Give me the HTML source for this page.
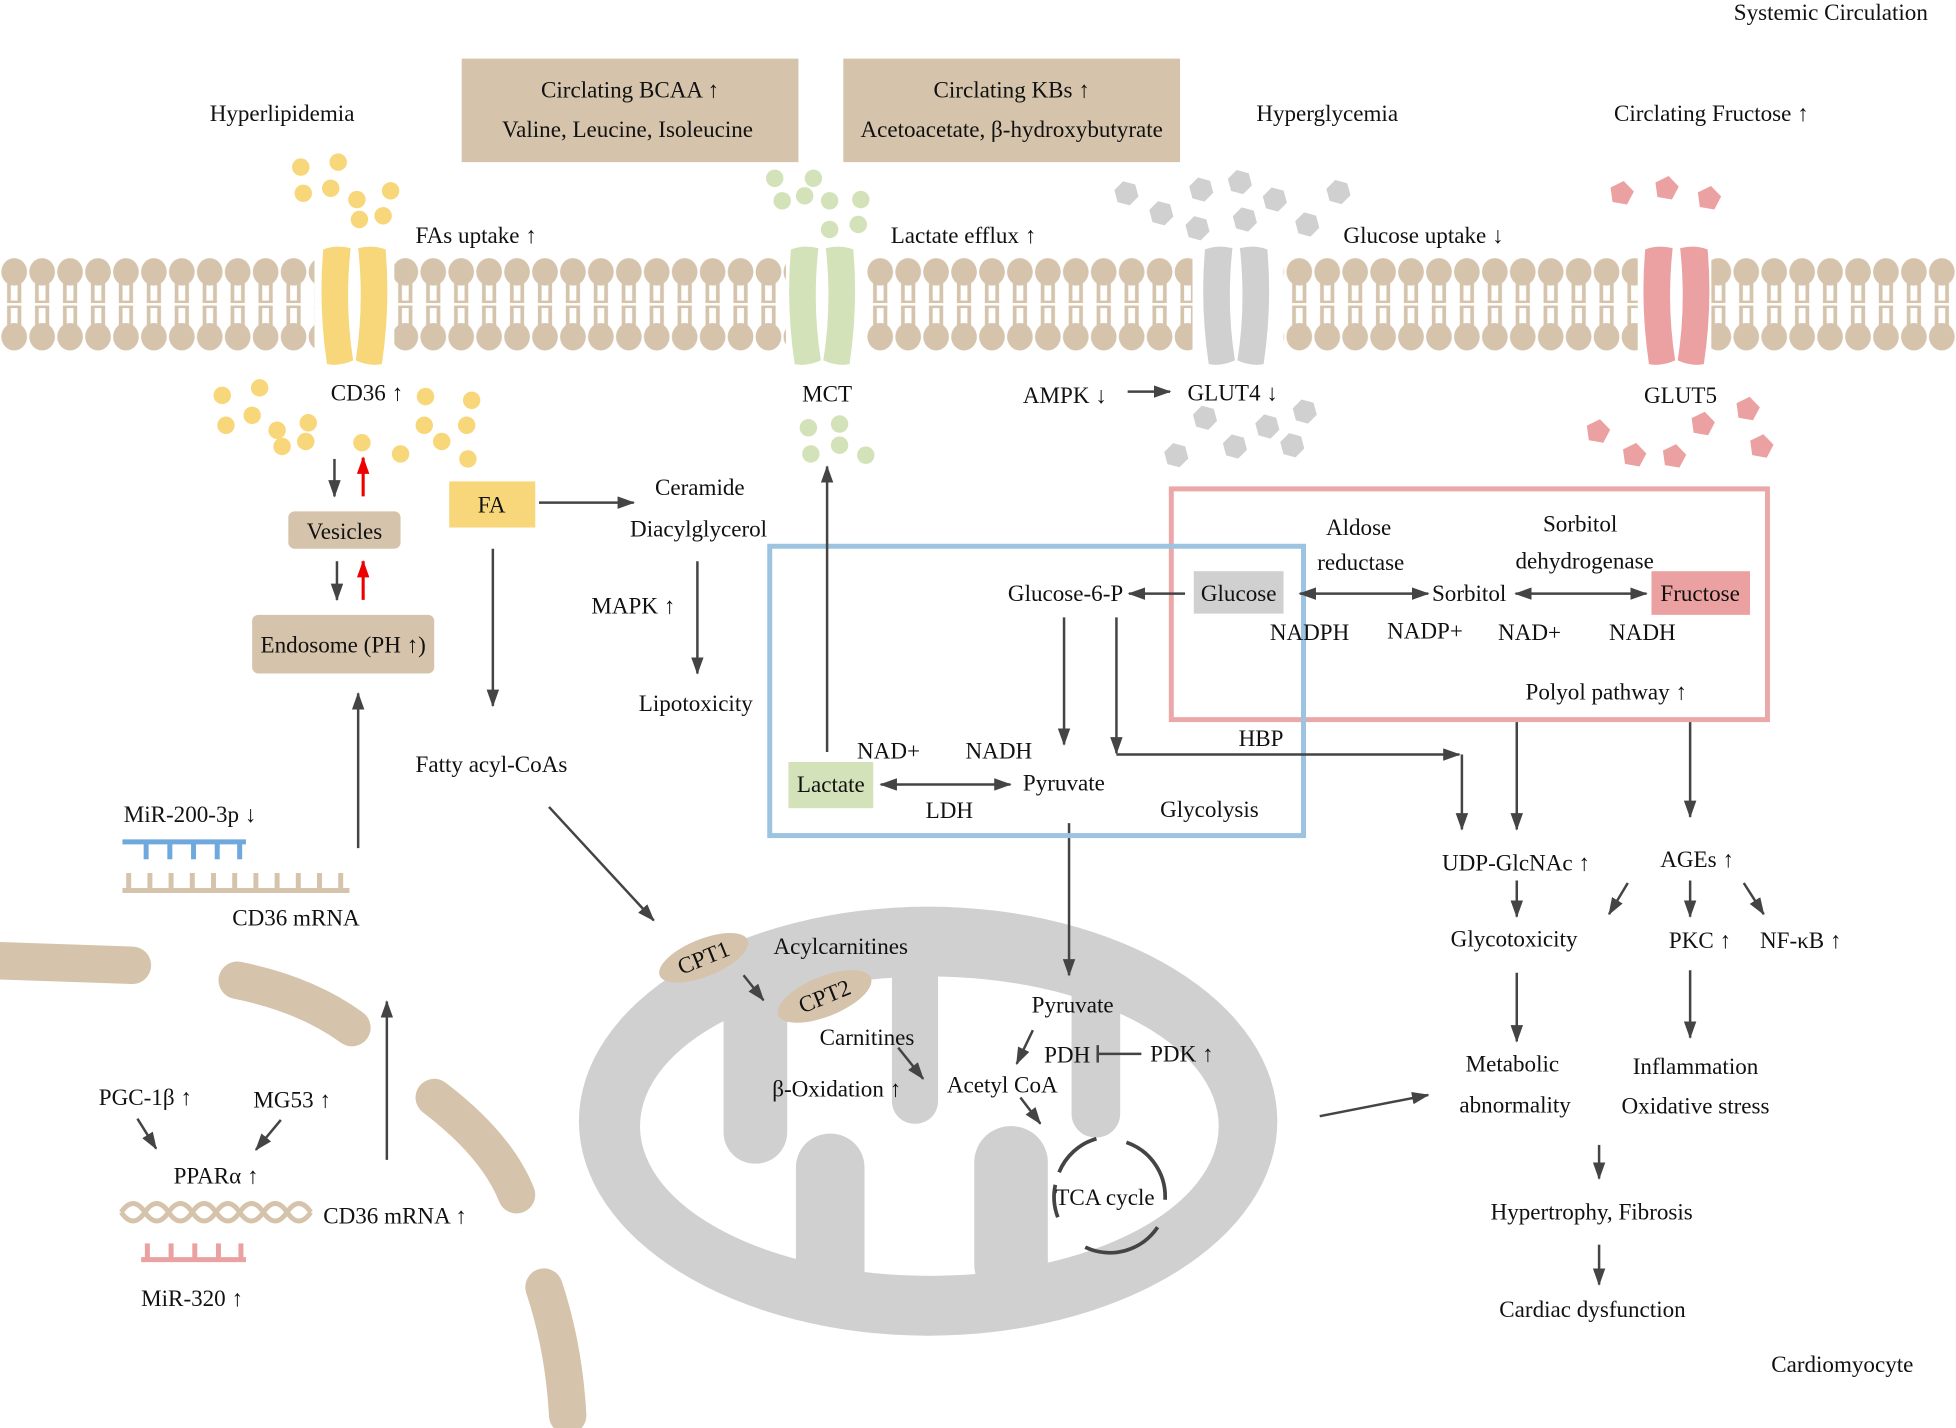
<!DOCTYPE html>
<html><head><meta charset="utf-8"><style>
html,body{margin:0;padding:0;background:#fff;}
svg{display:block;}
text{font-family:"Liberation Serif",serif;font-size:18.5px;fill:#111;}
</style></head><body>
<svg width="1956" height="1428" viewBox="0 0 1568 1145" xmlns="http://www.w3.org/2000/svg">
<defs>
<marker id="a" markerUnits="userSpaceOnUse" markerWidth="14" markerHeight="10" refX="13" refY="5" orient="auto"><path d="M0,0 L14,5 L0,10 z" fill="#444"/></marker>
<marker id="r" markerUnits="userSpaceOnUse" markerWidth="14" markerHeight="10" refX="13" refY="5" orient="auto"><path d="M0,0 L14,5 L0,10 z" fill="#e00"/></marker>
<marker id="s" markerUnits="userSpaceOnUse" markerWidth="14" markerHeight="10" refX="1" refY="5" orient="auto"><path d="M14,0 L0,5 L14,10 z" fill="#444"/></marker>
<pattern id="lip" patternUnits="userSpaceOnUse" x="0" y="205" width="22.4" height="80">
<ellipse cx="11.2" cy="13" rx="10.3" ry="11" fill="#d5c4ab"/>
<ellipse cx="11.2" cy="65" rx="10.3" ry="11" fill="#d5c4ab"/>
<rect x="5.5" y="20" width="3" height="17" fill="#d5c4ab"/><rect x="13.9" y="20" width="3" height="17" fill="#d5c4ab"/>
<rect x="5.5" y="41" width="3" height="17" fill="#d5c4ab"/><rect x="13.9" y="41" width="3" height="17" fill="#d5c4ab"/>
<rect x="5.5" y="36" width="11.4" height="2" fill="#d5c4ab"/><rect x="5.5" y="40" width="11.4" height="2" fill="#d5c4ab"/>
</pattern>
<polygon id="hx" points="10,0 5,8.7 -5,8.7 -10,0 -5,-8.7 5,-8.7" fill="#d0d0d0" transform="rotate(15)"/>
<polygon id="pt" points="0,-10 9.5,-3.1 5.9,8.1 -5.9,8.1 -9.5,-3.1" fill="#eba1a1" transform="rotate(10)"/>
<circle id="yd" r="7" fill="#f8d77a"/>
<circle id="gd" r="7" fill="#d3e2b9"/>
</defs>

<text x="1390" y="16">Systemic Circulation</text>
<rect x="370" y="47" width="270" height="83" fill="#d5c4ab"/>
<text x="505" y="78" text-anchor="middle">Circlating BCAA ↑</text>
<text x="503" y="110" text-anchor="middle">Valine, Leucine, Isoleucine</text>
<rect x="676" y="47" width="270" height="83" fill="#d5c4ab"/>
<text x="811" y="78" text-anchor="middle">Circlating KBs ↑</text>
<text x="811" y="110" text-anchor="middle">Acetoacetate, β-hydroxybutyrate</text>
<text x="226" y="97" text-anchor="middle">Hyperlipidemia</text>
<text x="1064" y="97" text-anchor="middle">Hyperglycemia</text>
<text x="1372" y="97" text-anchor="middle">Circlating Fructose ↑</text>

<rect x="0" y="205" width="252" height="80" fill="url(#lip)"/>
<rect x="316" y="205" width="314" height="80" fill="url(#lip)"/>
<rect x="694" y="205" width="262" height="80" fill="url(#lip)"/>
<rect x="1029" y="205" width="284" height="80" fill="url(#lip)"/>
<rect x="1372" y="205" width="196" height="80" fill="url(#lip)"/>
<g fill="#f8d77a">
<path d="M259,200 Q269,196 281,199 Q276,245 283,289 Q272,294 262,292 Q255,245 259,200z"/>
<path d="M309,200 Q299,196 287,199 Q292,245 285,289 Q296,294 306,292 Q313,245 309,200z"/>
</g>
<g fill="#d3e2b9">
<path d="M634,200 Q644,196 656,199 Q651,245 658,289 Q647,294 637,292 Q630,245 634,200z"/>
<path d="M684,200 Q674,196 662,199 Q667,245 660,289 Q671,294 681,292 Q688,245 684,200z"/>
</g>
<g fill="#d0d0d0">
<path d="M966,200 Q976,196 988,199 Q983,245 990,289 Q979,294 969,292 Q962,245 966,200z"/>
<path d="M1016,200 Q1006,196 994,199 Q999,245 992,289 Q1003,294 1013,292 Q1020,245 1016,200z"/>
</g>
<g fill="#eba1a1">
<path d="M1319,200 Q1329,196 1341,199 Q1336,245 1343,289 Q1332,294 1322,292 Q1315,245 1319,200z"/>
<path d="M1369,200 Q1359,196 1347,199 Q1352,245 1345,289 Q1356,294 1366,292 Q1373,245 1369,200z"/>
</g>

<use href="#yd" x="241" y="134"/><use href="#yd" x="271" y="130"/><use href="#yd" x="243" y="155"/><use href="#yd" x="265" y="151"/><use href="#yd" x="286" y="160"/><use href="#yd" x="313" y="153"/><use href="#yd" x="288" y="176"/><use href="#yd" x="307" y="173"/>
<use href="#gd" x="621" y="143"/><use href="#gd" x="627" y="161"/><use href="#gd" x="645" y="157"/><use href="#gd" x="665" y="161"/><use href="#gd" x="690" y="160"/><use href="#gd" x="688" y="180"/><use href="#gd" x="665" y="184"/><use href="#gd" x="652" y="143"/>
<use href="#hx" x="903" y="155"/><use href="#hx" x="931" y="171"/><use href="#hx" x="963" y="152"/><use href="#hx" x="960" y="183"/><use href="#hx" x="994" y="146"/><use href="#hx" x="998" y="176"/><use href="#hx" x="1022" y="160"/><use href="#hx" x="1048" y="180"/><use href="#hx" x="1073" y="154"/>
<use href="#pt" x="1300" y="155"/><use href="#pt" x="1336" y="151"/><use href="#pt" x="1370" y="159"/>
<use href="#yd" x="178" y="317"/><use href="#yd" x="208" y="311"/><use href="#yd" x="181" y="341"/><use href="#yd" x="202" y="333"/><use href="#yd" x="222" y="345"/><use href="#yd" x="247" y="339"/><use href="#yd" x="226" y="358"/><use href="#yd" x="245" y="354"/><use href="#yd" x="290" y="355"/><use href="#yd" x="341" y="318"/><use href="#yd" x="378" y="321"/><use href="#yd" x="340" y="341"/><use href="#yd" x="374" y="341"/><use href="#yd" x="354" y="354"/><use href="#yd" x="321" y="364"/><use href="#yd" x="375" y="368"/>
<use href="#gd" x="648" y="343"/><use href="#gd" x="673" y="340"/><use href="#gd" x="650" y="364"/><use href="#gd" x="673" y="357"/><use href="#gd" x="694" y="365"/>
<use href="#hx" x="966" y="335"/><use href="#hx" x="1016" y="342"/><use href="#hx" x="1046" y="330"/><use href="#hx" x="943" y="365"/><use href="#hx" x="990" y="358"/><use href="#hx" x="1036" y="357"/>
<use href="#pt" x="1281" y="346"/><use href="#pt" x="1310" y="365"/><use href="#pt" x="1342" y="366"/><use href="#pt" x="1365" y="340"/><use href="#pt" x="1401" y="328"/><use href="#pt" x="1412" y="358"/>

<text x="333" y="195">FAs uptake ↑</text>
<text x="714" y="195">Lactate efflux ↑</text>
<text x="1077" y="195">Glucose uptake ↓</text>
<text x="265" y="321">CD36 ↑</text>
<text x="643" y="322">MCT</text>
<text x="820" y="323">AMPK ↓</text>
<text x="952" y="321">GLUT4 ↓</text>
<text x="1318" y="323">GLUT5</text>
<line x1="904" y1="314" x2="938" y2="314" stroke="#444" stroke-width="2" marker-end="url(#a)"/>

<g stroke="#444" stroke-width="2" fill="none">
<line x1="268" y1="368" x2="268" y2="398" marker-end="url(#a)"/>
<line x1="270" y1="450" x2="270" y2="481" marker-end="url(#a)"/>
<line x1="432" y1="403" x2="508" y2="403" marker-end="url(#a)"/>
<line x1="559" y1="450" x2="559" y2="540" marker-end="url(#a)"/>
<line x1="395" y1="440" x2="395" y2="566" marker-end="url(#a)"/>
<line x1="440" y1="647" x2="524" y2="738" marker-end="url(#a)"/>
<line x1="287" y1="680" x2="287" y2="556" marker-end="url(#a)"/>
<line x1="310" y1="930" x2="310" y2="803" marker-end="url(#a)"/>
<line x1="110" y1="897" x2="125" y2="921" marker-end="url(#a)"/>
<line x1="225" y1="898" x2="205" y2="922" marker-end="url(#a)"/>
</g>
<g stroke="#e00" stroke-width="2.5">
<line x1="291" y1="398" x2="291" y2="367" marker-end="url(#r)"/>
<line x1="291" y1="481" x2="291" y2="450" marker-end="url(#r)"/>
</g>

<rect x="231" y="410" width="90" height="30" rx="5" fill="#d5c4ab"/>
<text x="276" y="432" text-anchor="middle">Vesicles</text>
<rect x="202" y="493" width="146" height="47" rx="5" fill="#d5c4ab"/>
<text x="275" y="523" text-anchor="middle">Endosome (PH ↑)</text>
<rect x="360" y="386" width="69" height="37" fill="#f8d77a"/>
<text x="394" y="411" text-anchor="middle">FA</text>
<text x="525" y="397">Ceramide</text>
<text x="505" y="430">Diacylglycerol</text>
<text x="474" y="492">MAPK ↑</text>
<text x="512" y="570">Lipotoxicity</text>
<text x="333" y="619">Fatty acyl-CoAs</text>

<text x="99" y="659">MiR-200-3p ↓</text>
<g stroke="#6fa8dc" stroke-width="4"><line x1="98" y1="675" x2="197" y2="675"/>
<line x1="117" y1="675" x2="117" y2="689"/><line x1="136" y1="675" x2="136" y2="689"/><line x1="155" y1="675" x2="155" y2="689"/><line x1="174" y1="675" x2="174" y2="689"/><line x1="192" y1="675" x2="192" y2="689"/></g>
<g stroke="#d5c4ab" stroke-width="4"><line x1="98" y1="714" x2="280" y2="714"/>
<line x1="103" y1="714" x2="103" y2="700"/><line x1="120" y1="714" x2="120" y2="700"/><line x1="137" y1="714" x2="137" y2="700"/><line x1="154" y1="714" x2="154" y2="700"/><line x1="171" y1="714" x2="171" y2="700"/><line x1="188" y1="714" x2="188" y2="700"/><line x1="205" y1="714" x2="205" y2="700"/><line x1="222" y1="714" x2="222" y2="700"/><line x1="239" y1="714" x2="239" y2="700"/><line x1="256" y1="714" x2="256" y2="700"/><line x1="273" y1="714" x2="273" y2="700"/></g>
<text x="186" y="742">CD36 mRNA</text>

<g stroke="#d5c4ab" stroke-width="30" stroke-linecap="round" fill="none">
<path d="M-10,770 L106,774"/>
<path d="M190,786 Q245,797 282,824"/>
<path d="M348,880 Q398,918 414,958"/>
<path d="M436,1032 Q452,1080 455,1135"/>
</g>

<text x="79" y="886">PGC-1β ↑</text>
<text x="203" y="888">MG53 ↑</text>
<text x="139" y="949">PPARα ↑</text>
<g stroke="#d5c4ab" stroke-width="4" fill="none">
<path d="M97,972 q9.5,-14 19,0 t19,0 t19,0 t19,0 t19,0 t19,0 t19,0 t19,0"/>
<path d="M97,972 q9.5,14 19,0 t19,0 t19,0 t19,0 t19,0 t19,0 t19,0 t19,0"/>
</g>
<text x="259" y="981">CD36 mRNA ↑</text>
<g stroke="#eba1a1" stroke-width="4"><line x1="113" y1="1010" x2="197" y2="1010"/>
<line x1="118" y1="1010" x2="118" y2="997"/><line x1="137" y1="1010" x2="137" y2="997"/><line x1="156" y1="1010" x2="156" y2="997"/><line x1="175" y1="1010" x2="175" y2="997"/><line x1="193" y1="1010" x2="193" y2="997"/></g>
<text x="113" y="1047">MiR-320 ↑</text>

<ellipse cx="744" cy="899" rx="280" ry="172" fill="#d0d0d0"/>
<ellipse cx="745" cy="903" rx="232" ry="120" fill="#fff"/>
<g fill="#d0d0d0">
<rect x="580" y="760" width="51" height="173" rx="25"/>
<rect x="715" y="760" width="37" height="141" rx="18"/>
<rect x="859" y="760" width="39" height="152" rx="19"/>
<rect x="638" y="909" width="55" height="140" rx="27"/>
<rect x="781" y="903" width="59" height="140" rx="29"/>
</g>
<ellipse cx="564" cy="768" rx="38" ry="15" fill="#d5c4ab" transform="rotate(-22 564 768)"/>
<text x="564" y="774" text-anchor="middle" transform="rotate(-22 564 768)">CPT1</text>
<ellipse cx="661" cy="799" rx="40" ry="16" fill="#d5c4ab" transform="rotate(-22 661 799)"/>
<text x="661" y="805" text-anchor="middle" transform="rotate(-22 661 799)">CPT2</text>
<text x="620" y="765">Acylcarnitines</text>
<text x="657" y="838">Carnitines</text>
<text x="619" y="879">β-Oxidation ↑</text>
<text x="827" y="812">Pyruvate</text>
<text x="837" y="852">PDH</text>
<text x="922" y="851">PDK ↑</text>
<text x="759" y="876">Acetyl CoA</text>
<g stroke="#444" stroke-width="2" fill="none">
<line x1="596" y1="782" x2="612" y2="802" marker-end="url(#a)"/>
<line x1="720" y1="840" x2="740" y2="865" marker-end="url(#a)"/>
<line x1="828" y1="826" x2="815" y2="853" marker-end="url(#a)"/>
<line x1="818" y1="880" x2="834" y2="901" marker-end="url(#a)"/>
<line x1="915" y1="845" x2="880" y2="845"/>
<line x1="880" y1="838" x2="880" y2="852"/>
<line x1="857" y1="660" x2="857" y2="782" marker-end="url(#a)"/>
</g>
<g stroke="#444" stroke-width="3" fill="none">
<path d="M849,940 A46,46 0 0,1 879,913"/>
<path d="M903,916 A46,46 0 0,1 934,962"/>
<path d="M928,984 A46,46 0 0,1 870,1000"/>
<path d="M848,976 A46,46 0 0,1 846,950"/>
</g>
<text x="846" y="966">TCA cycle</text>
<line x1="1058" y1="895" x2="1145" y2="878" stroke="#444" stroke-width="2" marker-end="url(#a)"/>

<rect x="939" y="392" width="478" height="185" fill="none" stroke="#eba8a8" stroke-width="4"/>
<rect x="617" y="438" width="428" height="232" fill="none" stroke="#9cc3e0" stroke-width="4"/>
<rect x="957" y="458" width="72" height="34" fill="#d0d0d0"/>
<text x="993" y="482" text-anchor="middle">Glucose</text>
<rect x="1324" y="458" width="79" height="35" fill="#eba1a1"/>
<text x="1363" y="482" text-anchor="middle">Fructose</text>
<text x="808" y="482">Glucose-6-P</text>
<text x="1148" y="482">Sorbitol</text>
<text x="1063" y="429">Aldose</text>
<text x="1056" y="457">reductase</text>
<text x="1237" y="426">Sorbitol</text>
<text x="1215" y="456">dehydrogenase</text>
<text x="1018" y="513">NADPH</text>
<text x="1112" y="512">NADP+</text>
<text x="1201" y="513">NAD+</text>
<text x="1290" y="513">NADH</text>
<text x="1223" y="561">Polyol pathway ↑</text>
<text x="993" y="598">HBP</text>
<text x="687" y="608">NAD+</text>
<text x="774" y="608">NADH</text>
<rect x="632" y="611" width="68" height="37" fill="#d3e2b9"/>
<text x="666" y="635" text-anchor="middle">Lactate</text>
<text x="820" y="634">Pyruvate</text>
<text x="742" y="656">LDH</text>
<text x="930" y="655">Glycolysis</text>
<g stroke="#444" stroke-width="2" fill="none">
<line x1="950" y1="476" x2="905" y2="476" marker-end="url(#a)"/>
<line x1="1042" y1="476" x2="1145" y2="476" marker-start="url(#s)" marker-end="url(#a)"/>
<line x1="1215" y1="476" x2="1320" y2="476" marker-start="url(#s)" marker-end="url(#a)"/>
<line x1="853" y1="495" x2="853" y2="597" marker-end="url(#a)"/>
<line x1="895" y1="495" x2="895" y2="604" marker-end="url(#a)"/>
<line x1="895" y1="605" x2="1170" y2="605" marker-end="url(#a)"/>
<line x1="1172" y1="605" x2="1172" y2="665" marker-end="url(#a)"/>
<line x1="706" y1="629" x2="810" y2="629" marker-start="url(#s)" marker-end="url(#a)"/>
<line x1="663" y1="603" x2="663" y2="374" marker-end="url(#a)"/>
<line x1="1216" y1="579" x2="1216" y2="665" marker-end="url(#a)"/>
<line x1="1355" y1="579" x2="1355" y2="655" marker-end="url(#a)"/>
<line x1="1216" y1="706" x2="1216" y2="735" marker-end="url(#a)"/>
<line x1="1305" y1="708" x2="1290" y2="733" marker-end="url(#a)"/>
<line x1="1355" y1="706" x2="1355" y2="735" marker-end="url(#a)"/>
<line x1="1398" y1="708" x2="1414" y2="733" marker-end="url(#a)"/>
<line x1="1216" y1="780" x2="1216" y2="835" marker-end="url(#a)"/>
<line x1="1355" y1="778" x2="1355" y2="832" marker-end="url(#a)"/>
<line x1="1282" y1="918" x2="1282" y2="945" marker-end="url(#a)"/>
<line x1="1282" y1="998" x2="1282" y2="1030" marker-end="url(#a)"/>
</g>
<text x="1156" y="698">UDP-GlcNAc ↑</text>
<text x="1331" y="695">AGEs ↑</text>
<text x="1163" y="759">Glycotoxicity</text>
<text x="1338" y="760">PKC ↑</text>
<text x="1411" y="760">NF-κB ↑</text>
<text x="1175" y="859">Metabolic</text>
<text x="1170" y="892">abnormality</text>
<text x="1309" y="861">Inflammation</text>
<text x="1300" y="893">Oxidative stress</text>
<text x="1195" y="978">Hypertrophy, Fibrosis</text>
<text x="1202" y="1056">Cardiac dysfunction</text>
<text x="1420" y="1100">Cardiomyocyte</text>
</svg>
</body></html>
